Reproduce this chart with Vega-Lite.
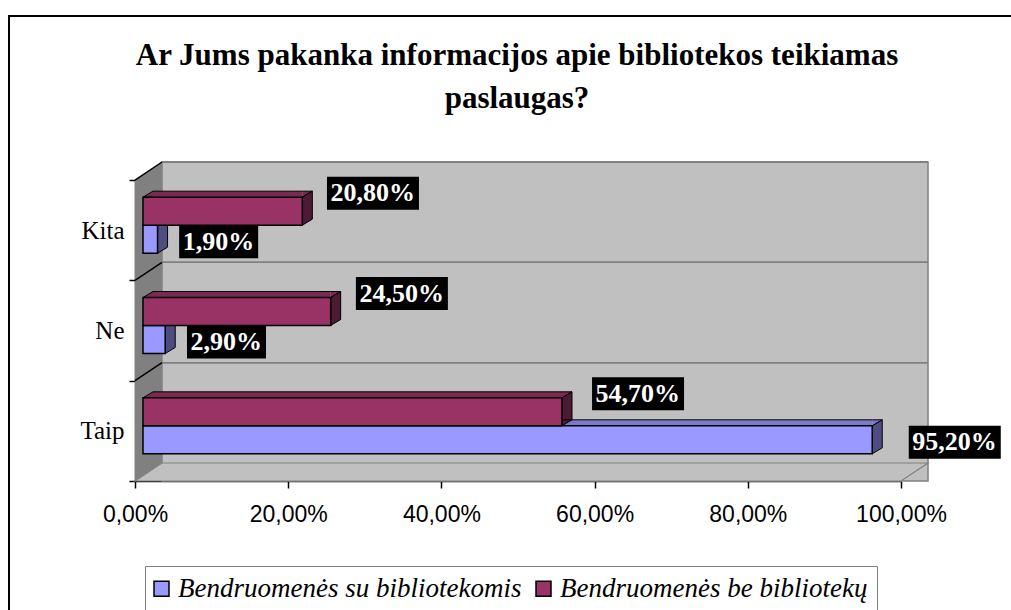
{
  "$schema": "https://vega.github.io/schema/vega-lite/v6.json",
  "width": 793,
  "height": 319,
  "autosize": {"type": "none"},
  "padding": {"left": 135, "top": 162, "right": 83, "bottom": 129},
  "background": "white",
  "title": {
    "text": ["Ar Jums pakanka informacijos apie bibliotekos teikiamas", "paslaugas?"],
    "font": "Liberation Serif",
    "fontSize": 31,
    "fontWeight": "bold",
    "color": "black",
    "anchor": "middle",
    "frame": "group",
    "dx": -14.5,
    "offset": -103,
    "lineHeight": 43
  },
  "data": {
    "values": [
      {"category": "Kita", "series": "Bendruomenės su bibliotekomis", "value": 0.019},
      {"category": "Kita", "series": "Bendruomenės be bibliotekų", "value": 0.208},
      {"category": "Ne", "series": "Bendruomenės su bibliotekomis", "value": 0.029},
      {"category": "Ne", "series": "Bendruomenės be bibliotekų", "value": 0.245},
      {"category": "Taip", "series": "Bendruomenės su bibliotekomis", "value": 0.952},
      {"category": "Taip", "series": "Bendruomenės be bibliotekų", "value": 0.547}
    ]
  },
  "resolve": {"scale": {"x": "independent"}},
  "layer": [
    {
      "layer": [
        {
          "data": {"values": [{}]},
          "mark": {"type": "point", "filled": false, "opacity": 1, "stroke": "black", "strokeWidth": 2, "size": 628849, "shape": "M-1.31778,-0.77049L1.21942,-0.77049L1.21942,0.76545L-1.31778,0.76545Z"},
          "encoding": {}
        },
        {
          "data": {"values": [{}]},
          "mark": {"type": "rect", "fill": "#C0C0C0", "stroke": "#808080", "strokeWidth": 1.5, "xOffset": 27, "x2Offset": 27, "y2Offset": -18},
          "encoding": {
            "x": {"datum": 0, "type": "quantitative"},
            "x2": {"datum": 1}
          }
        },
        {
          "mark": {"type": "rule", "color": "#808080", "strokeWidth": 1.5, "xOffset": 27, "x2Offset": 27, "yOffset": -18},
          "encoding": {
            "y": {"field": "category", "type": "nominal", "bandPosition": 0},
            "x": {"datum": 0, "type": "quantitative"},
            "x2": {"datum": 1}
          }
        },
        {
          "data": {"values": [{}]},
          "mark": {"type": "point", "filled": true, "opacity": 1, "fill": "#808080", "strokeWidth": 0, "size": 628849, "shape": "M-1,-0.35687L-0.9319,-0.40227L-0.9319,0.35687L-1,0.40227Z"},
          "encoding": {}
        },
        {
          "data": {"values": [{}]},
          "mark": {"type": "point", "filled": true, "opacity": 1, "fill": "#C0C0C0", "stroke": "#808080", "strokeWidth": 1.2, "size": 628849, "shape": "M-1,0.40227L0.9319,0.40227L1,0.35687L-0.9319,0.35687Z"},
          "encoding": {}
        },
        {
          "data": {"values": [{}]},
          "mark": {"type": "point", "filled": false, "opacity": 1, "stroke": "black", "strokeWidth": 1.5, "size": 628849, "shape": "M-1,-0.35687L-0.9319,-0.40227M-1,-0.10383L-0.9319,-0.14923M-1,0.14923L-0.9319,0.10383"},
          "encoding": {}
        },
        {
          "transform": [{"filter": {"field": "series", "equal": "Bendruomenės be bibliotekų"}}],
          "mark": {"type": "rule", "color": "#7A2952", "strokeWidth": 6, "xOffset": 8, "x2Offset": 18, "yOffset": 14.17},
          "encoding": {
            "x": {"field": "value", "type": "quantitative"},
            "x2": {"datum": 0},
            "y": {"field": "category", "type": "nominal", "bandPosition": 0}
          }
        },
        {
          "transform": [{"filter": {"field": "series", "equal": "Bendruomenės su bibliotekomis"}}],
          "mark": {"type": "rule", "color": "#7A7ACC", "strokeWidth": 6, "xOffset": 8, "x2Offset": 18, "yOffset": 42.17},
          "encoding": {
            "x": {"field": "value", "type": "quantitative"},
            "x2": {"datum": 0},
            "y": {"field": "category", "type": "nominal", "bandPosition": 0}
          }
        },
        {
          "mark": {"type": "point", "filled": true, "opacity": 1, "stroke": "black", "strokeWidth": 1, "size": 400, "xOffset": 8, "shape": "M1,-1.4L0,-1.4L1,-2"},
          "encoding": {
            "x": {"datum": 0, "type": "quantitative"},
            "y": {"field": "category", "type": "nominal"},
            "yOffset": {"field": "series", "type": "nominal"},
            "fill": {"condition": {"test": "datum.series === 'Bendruomenės be bibliotekų'", "value": "#7A2952"}, "value": "#7A7ACC"}
          }
        },
        {
          "mark": {"type": "point", "filled": true, "opacity": 1, "stroke": "black", "strokeWidth": 1, "size": 400, "xOffset": 8, "shape": "M0,-1.4L1,-2L0,-2"},
          "encoding": {
            "x": {"field": "value", "type": "quantitative"},
            "y": {"field": "category", "type": "nominal"},
            "yOffset": {"field": "series", "type": "nominal"},
            "fill": {"condition": {"test": "datum.series === 'Bendruomenės be bibliotekų'", "value": "#7A2952"}, "value": "#7A7ACC"}
          }
        },
        {
          "mark": {"type": "point", "filled": true, "opacity": 1, "stroke": "black", "strokeWidth": 1, "size": 400, "xOffset": 8, "shape": "M0,-1.4L1,-2L1,0.8L0,1.4Z"},
          "encoding": {
            "x": {"field": "value", "type": "quantitative"},
            "y": {"field": "category", "type": "nominal"},
            "yOffset": {"field": "series", "type": "nominal"},
            "fill": {"condition": {"test": "datum.series === 'Bendruomenės be bibliotekų'", "value": "#4D1A33"}, "value": "#4D4D80"}
          }
        },
        {
          "transform": [{"filter": {"field": "series", "equal": "Bendruomenės be bibliotekų"}}],
          "mark": {"type": "rule", "color": "black", "strokeWidth": 1, "xOffset": 8, "x2Offset": 18, "yOffset": 11.17},
          "encoding": {
            "x": {"field": "value", "type": "quantitative"},
            "x2": {"datum": 0},
            "y": {"field": "category", "type": "nominal", "bandPosition": 0}
          }
        },
        {
          "transform": [{"filter": {"field": "series", "equal": "Bendruomenės su bibliotekomis"}}],
          "mark": {"type": "rule", "color": "black", "strokeWidth": 1, "xOffset": 8, "x2Offset": 18, "yOffset": 39.17},
          "encoding": {
            "x": {"field": "value", "type": "quantitative"},
            "x2": {"datum": 0},
            "y": {"field": "category", "type": "nominal", "bandPosition": 0}
          }
        },
        {
          "mark": {"type": "bar", "stroke": "black", "strokeWidth": 1.5, "xOffset": 8, "x2Offset": 8},
          "encoding": {
            "x": {
              "field": "value",
              "type": "quantitative",
              "scale": {"domain": [0, 1], "range": [0, 766], "nice": false, "zero": true},
              "axis": {
                "title": null,
                "values": [0, 0.2, 0.4, 0.6, 0.8, 1],
                "format": ".2%",
                "labelFont": "Liberation Sans",
                "labelFontSize": 23,
                "labelColor": "black",
                "labelPadding": 15,
                "labelFlush": false,
                "labelOverlap": false,
                "tickSize": 7,
                "tickColor": "black",
                "tickWidth": 1.5,
                "domainColor": "black",
                "domainWidth": 1.5,
                "grid": false
              }
            },
            "x2": {"datum": 0},
            "y": {
              "field": "category",
              "type": "nominal",
              "sort": ["Kita", "Ne", "Taip"],
              "scale": {"domain": ["Kita", "Ne", "Taip"], "range": [18, 319], "paddingInner": 0, "paddingOuter": 0},
              "axis": {
                "title": null,
                "tickBand": "extent",
                "labelFont": "Liberation Serif",
                "labelFontSize": 25,
                "labelColor": "black",
                "labelPadding": 5,
                "labelAngle": 0,
                "tickSize": 6,
                "tickColor": "black",
                "tickWidth": 1.5,
                "domainColor": "black",
                "domainWidth": 1.5,
                "grid": false
              }
            },
            "yOffset": {
              "field": "series",
              "type": "nominal",
              "scale": {"domain": ["Bendruomenės be bibliotekų", "Bendruomenės su bibliotekomis"], "paddingInner": 0, "paddingOuter": 0.7917, "align": 0.3873}
            },
            "color": {
              "field": "series",
              "type": "nominal",
              "scale": {"domain": ["Bendruomenės su bibliotekomis", "Bendruomenės be bibliotekų"], "range": ["#9999FF", "#993366"]},
              "legend": {"title": null, "orient": "none", "legendX": 10, "legendY": 404, "direction": "horizontal"}
            }
          }
        }
      ]
    },
    {
      "layer": [
        {
          "transform": [{"filter": {"field": "series", "equal": "Bendruomenės be bibliotekų"}}],
          "mark": {"type": "point", "filled": true, "opacity": 1, "fill": "black", "strokeWidth": 0, "size": 8464, "shape": "M0,-0.75L2,-0.75L2,-0.0326L0,-0.0326Z"},
          "encoding": {
            "x": {"field": "value", "type": "quantitative", "scale": {"domain": [0, 1], "range": [29.3, 811.3], "nice": false, "zero": false}, "axis": null},
            "y": {"field": "category", "type": "nominal"},
            "yOffset": {"field": "series", "type": "nominal"}
          }
        },
        {
          "transform": [{"filter": {"field": "series", "equal": "Bendruomenės su bibliotekomis"}}, {"filter": {"field": "value", "gte": 0.1}}],
          "mark": {"type": "point", "filled": true, "opacity": 1, "fill": "black", "strokeWidth": 0, "size": 8464, "shape": "M0,-0.3043L2,-0.3043L2,0.413L0,0.413Z"},
          "encoding": {
            "x": {"field": "value", "type": "quantitative", "scale": {"domain": [0, 1], "range": [29.3, 811.3], "nice": false, "zero": false}, "axis": null},
            "y": {"field": "category", "type": "nominal"},
            "yOffset": {"field": "series", "type": "nominal"}
          }
        },
        {
          "transform": [{"filter": {"field": "series", "equal": "Bendruomenės su bibliotekomis"}}, {"filter": {"field": "value", "lt": 0.1}}],
          "mark": {"type": "point", "filled": true, "opacity": 1, "fill": "black", "strokeWidth": 0, "size": 6241, "shape": "M0,-0.3544L2,-0.3544L2,0.481L0,0.481Z"},
          "encoding": {
            "x": {"field": "value", "type": "quantitative", "scale": {"domain": [0, 1], "range": [29.3, 811.3], "nice": false, "zero": false}, "axis": null},
            "y": {"field": "category", "type": "nominal"},
            "yOffset": {"field": "series", "type": "nominal"}
          }
        },
        {
          "transform": [{"filter": {"field": "series", "equal": "Bendruomenės be bibliotekų"}}],
          "mark": {"type": "text", "align": "left", "baseline": "middle", "dx": 3.5, "dy": -18, "font": "Liberation Serif", "fontWeight": "bold", "fontSize": 26, "color": "white"},
          "encoding": {
            "x": {"field": "value", "type": "quantitative", "scale": {"domain": [0, 1], "range": [29.3, 811.3], "nice": false, "zero": false}, "axis": null},
            "y": {"field": "category", "type": "nominal"},
            "yOffset": {"field": "series", "type": "nominal"},
            "text": {"field": "value", "type": "quantitative", "format": ".2%"}
          }
        },
        {
          "transform": [{"filter": {"field": "series", "equal": "Bendruomenės su bibliotekomis"}}],
          "mark": {"type": "text", "align": "left", "baseline": "middle", "dx": 3.5, "dy": 2.5, "font": "Liberation Serif", "fontWeight": "bold", "fontSize": 26, "color": "white"},
          "encoding": {
            "x": {"field": "value", "type": "quantitative", "scale": {"domain": [0, 1], "range": [29.3, 811.3], "nice": false, "zero": false}, "axis": null},
            "y": {"field": "category", "type": "nominal"},
            "yOffset": {"field": "series", "type": "nominal"},
            "text": {"field": "value", "type": "quantitative", "format": ".2%"}
          }
        }
      ]
    }
  ],
  "config": {
    "view": {"stroke": null},
    "locale": {"number": {"decimal": ",", "thousands": ".", "grouping": [3], "currency": ["", "€"]}},
    "legend": {
      "padding": 9,
      "strokeColor": "#808080",
      "fillColor": "white",
      "symbolType": "square",
      "symbolSize": 225,
      "symbolOffset": -6,
      "symbolStrokeColor": "black",
      "symbolStrokeWidth": 1.5,
      "labelFont": "Liberation Serif",
      "labelFontStyle": "italic",
      "labelFontSize": 27,
      "labelColor": "black",
      "labelOffset": 3,
      "labelLimit": 0,
      "columnPadding": 11
    }
  }
}
